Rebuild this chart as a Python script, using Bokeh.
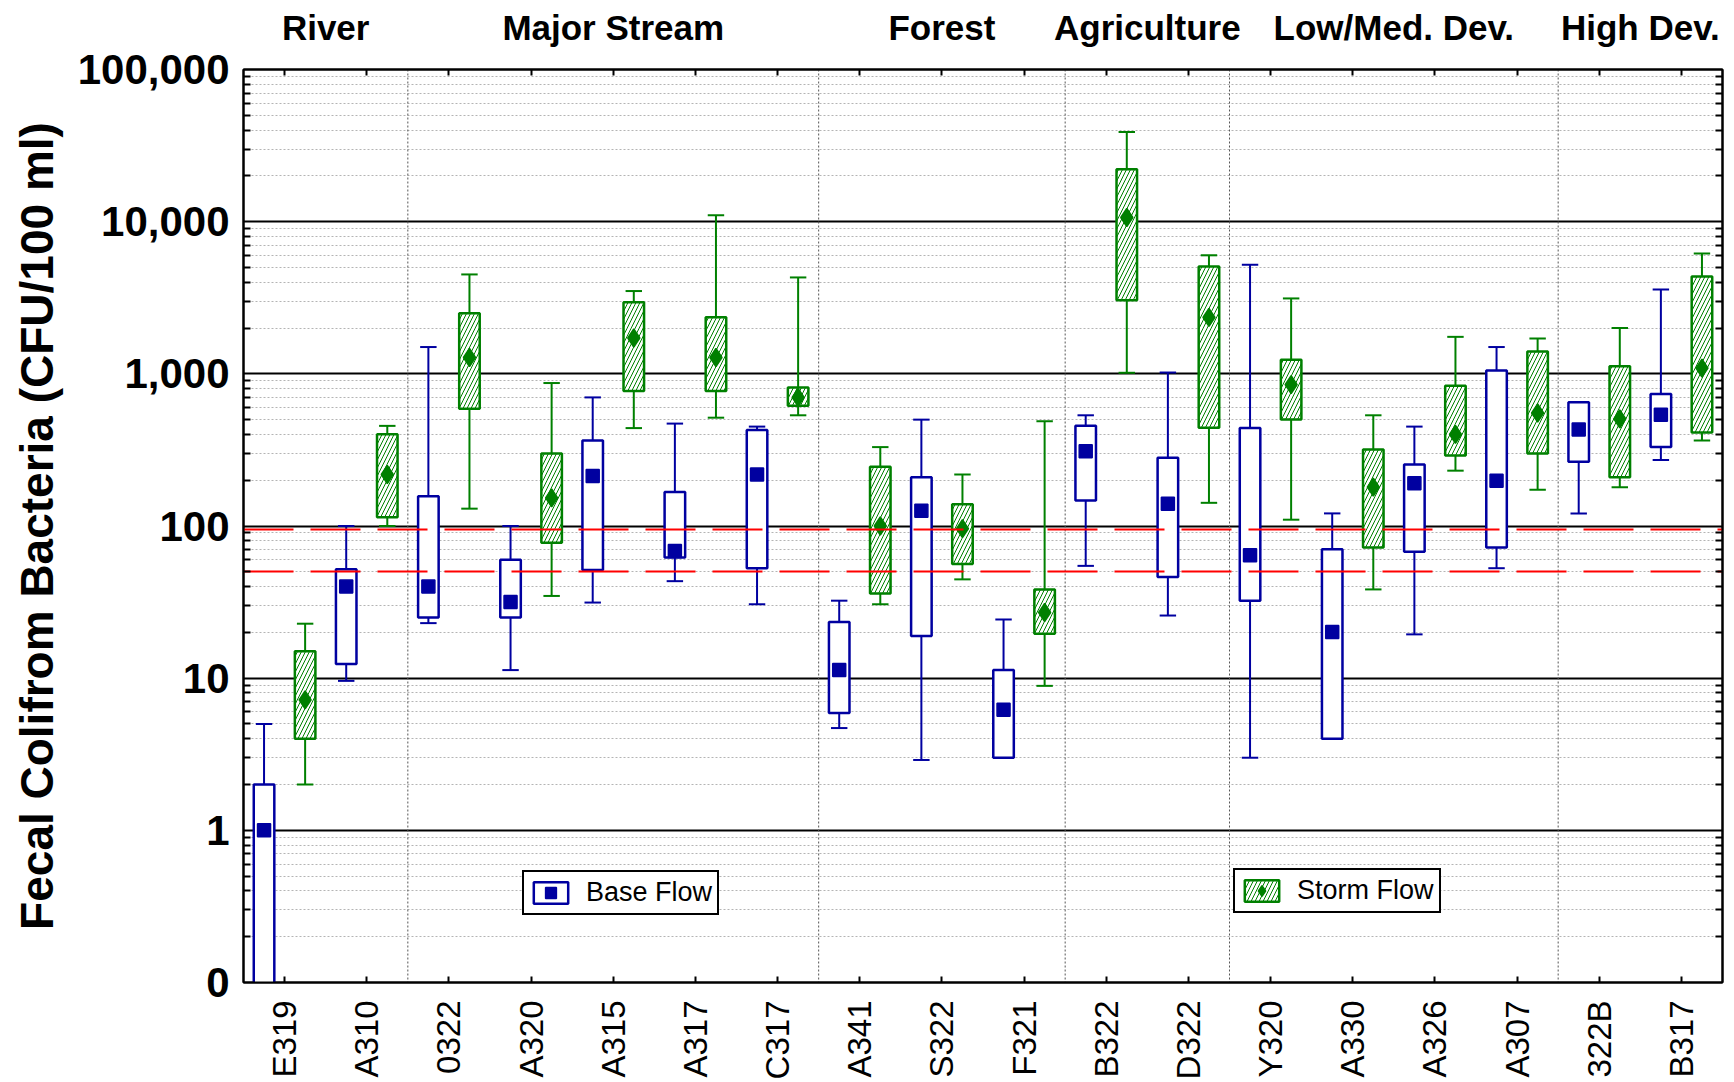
import numpy as np
from bokeh.plotting import figure
from bokeh.models import (ColumnDataSource, FixedTicker, LogAxis, LinearAxis, Range1d,
                          Span, Legend, LegendItem)
from bokeh.embed import file_html
from bokeh.resources import INLINE

# ---- sampling sites, grouped by land use -------------------------------------------------
sites = ["E319", "A310", "0322", "A320", "A315", "A317", "C317", "A341", "S322",
         "F321", "B322", "D322", "Y320", "A330", "A326", "A307", "322B", "B317"]
groups = ["River", "Major Stream", "Forest", "Agriculture", "Low/Med. Dev.", "High Dev."]
group_sizes = [2, 5, 3, 2, 4, 2]

# ---- base flow fecal coliform (CFU/100 ml): whisker low, box low, median, box high, whisker high
base_whisker_low = [0, 9.6, 23, 11.3, 31.4, 43.4, 30.6, 4.7, 2.9,
                    3.0, 54.7, 25.8, 3.0, 4.0, 19.4, 52.8, 121, 271]
base_box_low = [0, 12.4, 25, 25, 51.4, 62, 52.8, 5.9, 18.9,
                3.0, 147, 46.2, 32.3, 4.0, 67.8, 72.2, 264, 330]
base_median = [1, 40, 40, 31.7, 213, 68.4, 218, 11.3, 126,
               6.2, 310, 140, 64.3, 20.1, 191, 198, 431, 539]
base_box_high = [2, 52, 157, 60, 364, 167, 427, 23.4, 209,
                 11.3, 455, 281, 440, 70.3, 254, 1052, 650, 736]
base_whisker_high = [5, 100, 1500, 100, 700, 471, 450, 32.3, 500,
                     24.3, 534, 1020, 5210, 121, 450, 1500, 650, 3580]

# ---- storm flow fecal coliform (CFU/100 ml) -----------------------------------------------
storm_whisker_low = [2, 100, 130, 34.7, 440, 515, 534, 30.6, 44.6,
                     8.9, 1016, 142, 110, 38.3, 231, 173, 180, 364]
storm_box_low = [4, 114, 590, 77.5, 770, 770, 616, 36, 56.2,
                 19.6, 3050, 442, 501, 72.2, 291, 300, 209, 412]
storm_median = [7.2, 218, 1280, 153, 1720, 1280, 700, 100, 96,
                27, 10650, 2350, 849, 180, 400, 553, 506, 1091]
storm_box_high = [15, 401, 2500, 300, 2950, 2350, 812, 245, 139,
                  38.3, 22130, 5070, 1237, 318, 834, 1400, 1121, 4359]
storm_whisker_high = [22.8, 455, 4500, 870, 3500, 11000, 4300, 330, 218,
                      488, 38900, 6010, 3130, 534, 1750, 1706, 2003, 6173]

# water-quality reference levels (CFU/100 ml)
reference_levels = [95, 50]

y_tick_values = [0.1, 1, 10, 100, 1000, 10000, 100000]
y_tick_labels = ["0", "1", "10", "100", "1,000", "10,000", "100,000"]

# ---- styling --------------------------------------------------------------------------------
BASE_COLOR = "#0000A0"
STORM_COLOR = "#008000"
FONT = "Liberation Sans"
BOX_W = 0.25
CAP_W = 0.2
ZERO_FLOOR = 0.05   # zero counts fall below the "0" floor of the log axis

n = len(sites)
centers = np.arange(n) + 0.5
bounds = np.cumsum(group_sizes)
group_centers = bounds - np.array(group_sizes) / 2.0


def box_source(offset, wl, bl, med, bh, wh):
    x = centers + offset

    def clip(a):
        return np.maximum(np.asarray(a, dtype=float), ZERO_FLOOR)

    return ColumnDataSource(dict(
        x=x, left=x - BOX_W / 2, right=x + BOX_W / 2,
        cap_l=x - CAP_W / 2, cap_r=x + CAP_W / 2,
        wl=clip(wl), bl=clip(bl), med=clip(med), bh=clip(bh), wh=clip(wh)))


p = figure(width=1734, height=1082, y_axis_type="log",
           x_range=Range1d(0, n), y_range=Range1d(0.1, 100000),
           output_backend="svg", toolbar_location=None,
           min_border_left=243, min_border_right=12,
           min_border_top=69, min_border_bottom=100)
p.background_fill_color = "white"
p.border_fill_color = "white"
p.outline_line_color = "black"
p.outline_line_width = 2

# ---- y axis (log) ---------------------------------------------------------------------------
minor = [m * 10.0 ** e for e in range(-1, 5) for m in range(2, 10)]
y_ticker = FixedTicker(ticks=y_tick_values, minor_ticks=minor)
yax = p.yaxis[0]
yax.ticker = y_ticker
yax.major_label_overrides = dict(zip(y_tick_values, y_tick_labels))
yax.axis_label = "Fecal Colifrom Bacteria (CFU/100 ml)"
yax.axis_label_text_font = FONT
yax.axis_label_text_font_style = "bold"
yax.axis_label_text_font_size = "46px"
yax.axis_label_text_color = "black"
yax.axis_label_standoff = 12
yax.major_label_text_font = FONT
yax.major_label_text_font_style = "bold"
yax.major_label_text_font_size = "42px"
yax.major_label_text_color = "black"
yax.major_label_standoff = 14
yax.axis_line_width = 2
yax.major_tick_in = 0
yax.major_tick_out = 0
yax.minor_tick_in = 7
yax.minor_tick_out = 0
yax.minor_tick_line_width = 2

right_ax = LogAxis(ticker=y_ticker, axis_line_width=2, major_tick_in=0, major_tick_out=0,
                   minor_tick_in=7, minor_tick_out=0, minor_tick_line_width=2,
                   major_label_overrides={v: "" for v in y_tick_values},
                   major_label_standoff=0)
p.add_layout(right_ax, "right")

p.ygrid.ticker = y_ticker
p.ygrid.grid_line_color = "black"
p.ygrid.grid_line_width = 2
p.ygrid.minor_grid_line_color = "#b4b4b4"
p.ygrid.minor_grid_line_dash = "2 2"
p.ygrid.minor_grid_line_width = 1
p.xgrid.visible = False

# ---- x axis: site names below, land-use groups above ----------------------------------------
xax = p.xaxis[0]
xax.ticker = FixedTicker(ticks=list(centers), minor_ticks=[])
xax.major_label_overrides = {float(c): s for c, s in zip(centers, sites)}
xax.major_label_orientation = np.pi / 2
xax.major_label_text_font = FONT
xax.major_label_text_font_size = "33px"
xax.major_label_text_color = "black"
xax.major_label_standoff = 18
xax.axis_line_width = 2
xax.major_tick_in = 6
xax.major_tick_out = 0
xax.major_tick_line_width = 2

top_ax = LinearAxis(ticker=FixedTicker(ticks=list(group_centers), minor_ticks=list(centers)),
                    major_label_overrides={float(c): g for c, g in zip(group_centers, groups)},
                    major_label_text_font=FONT, major_label_text_font_style="bold",
                    major_label_text_font_size="35px", major_label_text_color="black",
                    major_label_standoff=23,
                    axis_line_width=2, major_tick_in=0, major_tick_out=0,
                    minor_tick_in=6, minor_tick_out=0, minor_tick_line_width=2)
p.add_layout(top_ax, "above")

# dotted separators between land-use groups
for b in bounds[:-1]:
    p.add_layout(Span(location=float(b), dimension="height", line_color="#555555",
                      line_dash="2 2", line_width=1, level="underlay"))

# ---- box plots -------------------------------------------------------------------------------
base_src = box_source(-0.25, base_whisker_low, base_box_low, base_median,
                      base_box_high, base_whisker_high)
storm_src = box_source(0.25, storm_whisker_low, storm_box_low, storm_median,
                       storm_box_high, storm_whisker_high)


def draw_series(src, color, marker, msize, hatch):
    p.segment(x0="x", y0="wl", x1="x", y1="wh", source=src, line_color=color, line_width=2)
    p.segment(x0="cap_l", y0="wh", x1="cap_r", y1="wh", source=src, line_color=color, line_width=2)
    p.segment(x0="cap_l", y0="wl", x1="cap_r", y1="wl", source=src, line_color=color, line_width=2)
    kw = dict(fill_color="white", line_color=color, line_width=2.5)
    if hatch:
        kw.update(hatch_pattern="/", hatch_color=color, hatch_scale=8, hatch_weight=1)
    box = p.quad(left="left", right="right", bottom="bl", top="bh", source=src, **kw)
    med = p.scatter(x="x", y="med", source=src, marker=marker, size=msize,
                    fill_color=color, line_color=color, line_width=1.5)
    return box, med


base_box, base_med = draw_series(base_src, BASE_COLOR, "square", 13, False)
storm_box, storm_med = draw_series(storm_src, STORM_COLOR, "diamond", 18, True)

# red dashed reference levels
p.hspan(y=reference_levels, line_color="#ff0000", line_dash="50 17", line_width=2)

# ---- legends ---------------------------------------------------------------------------------


def add_legend(label, renderers, loc):
    lg = Legend(items=[LegendItem(label=label, renderers=renderers)], location=loc,
                border_line_color="black", border_line_width=2, border_line_alpha=1,
                background_fill_color="white", background_fill_alpha=1,
                padding=5, margin=0, spacing=0, label_standoff=14,
                glyph_width=43, glyph_height=27,
                label_text_font=FONT, label_text_font_size="27px", label_text_color="black")
    p.add_layout(lg)


add_legend("Base Flow", [base_box, base_med], (279, 67))
add_legend("Storm Flow", [storm_box, storm_med], (990, 69))

open("out.html", "w").write(file_html(p, INLINE))
